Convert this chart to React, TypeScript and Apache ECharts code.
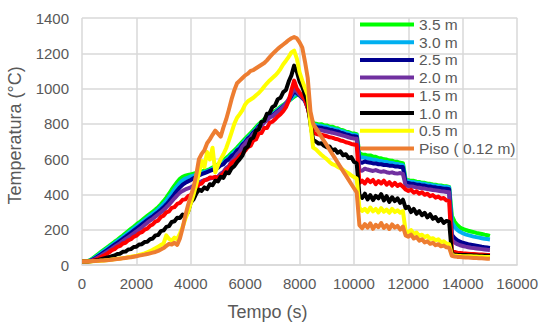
import { useEffect, useRef } from "react";
import * as echarts from "echarts";

// Sampling times (s), one reading every 100 s from 0 to 15000 s
const tiempo: number[] = Array.from({ length: 151 }, (_, i) => i * 100);

const nombres = ["3.5 m", "3.0 m", "2.5 m", "2.0 m", "1.5 m", "1.0 m", "0.5 m", "Piso ( 0.12 m)"];
const colores = ["#00FF00", "#00B0F0", "#000090", "#7030A0", "#FF0000", "#000000", "#FFFF00", "#ED7D31"];

// Temperatures (°C), rows of ten readings = 1000 s each
const h35 = [
  20, 20, 22, 28, 38, 50, 62, 74, 86, 97,
  108, 120, 132, 143, 155, 167, 180, 192, 205, 217,
  230, 241, 253, 266, 278, 290, 302, 314, 328, 344,
  362, 382, 404, 428, 450, 470, 488, 500, 506, 510,
  514, 518, 522, 526, 530, 534, 538, 544, 552, 560,
  570, 580, 592, 606, 620, 635, 650, 665, 682, 699,
  716, 732, 748, 764, 781, 798, 812, 826, 840, 850,
  860, 872, 884, 896, 908, 918, 930, 942, 954, 963,
  965, 958, 940, 900, 840, 803, 801, 797, 798, 792,
  791, 785, 784, 777, 775, 767, 764, 756, 754, 746,
  745, 742, 632, 627, 625, 620, 621, 614, 613, 606,
  605, 599, 598, 592, 591, 585, 585, 579, 577, 484,
  481, 477, 477, 472, 471, 466, 466, 461, 460, 456,
  455, 451, 451, 447, 446, 443, 278, 246, 226, 213,
  204, 199, 194, 190, 186, 182, 179, 176, 172, 169,
  165,
];

const h30 = [
  20, 20, 21, 26, 34, 45, 56, 68, 79, 90,
  101, 112, 124, 135, 146, 158, 170, 182, 194, 206,
  218, 230, 242, 254, 266, 278, 290, 302, 315, 330,
  346, 364, 384, 406, 428, 448, 466, 480, 490, 496,
  502, 507, 512, 517, 522, 527, 532, 538, 545, 552,
  560, 570, 582, 595, 609, 624, 640, 655, 671, 688,
  706, 722, 738, 755, 772, 790, 805, 819, 833, 844,
  854, 866, 879, 891, 903, 916, 930, 945, 962, 972,
  962, 950, 935, 895, 836, 795, 794, 789, 789, 784,
  783, 777, 775, 769, 767, 760, 757, 750, 747, 740,
  738, 735, 614, 609, 608, 603, 602, 597, 596, 591,
  590, 585, 584, 579, 578, 574, 573, 568, 566, 477,
  475, 470, 470, 465, 465, 460, 460, 455, 455, 450,
  450, 446, 446, 442, 442, 439, 242, 216, 199, 188,
  180, 174, 169, 165, 161, 158, 155, 152, 149, 147,
  145,
];

const h25 = [
  20, 20, 20, 24, 31, 40, 50, 60, 71, 82,
  93, 104, 115, 126, 137, 148, 159, 171, 183, 195,
  206, 218, 230, 242, 254, 265, 276, 288, 300, 313,
  327, 343, 361, 381, 402, 422, 440, 455, 466, 474,
  482, 492, 500, 508, 515, 521, 527, 533, 539, 545,
  552, 565, 572, 590, 599, 618, 628, 649, 660, 683,
  696, 717, 729, 751, 763, 786, 796, 815, 824, 841,
  848, 860, 873, 886, 899, 914, 932, 958, 982, 975,
  960, 946, 930, 890, 830, 785, 783, 779, 778, 773,
  772, 767, 765, 759, 757, 750, 747, 740, 737, 731,
  730, 727, 582, 579, 587, 582, 580, 576, 576, 571,
  571, 567, 567, 563, 563, 559, 559, 555, 555, 467,
  465, 461, 460, 455, 455, 450, 450, 445, 445, 440,
  440, 436, 436, 432, 432, 429, 172, 152, 140, 132,
  126, 122, 118, 115, 112, 109, 106, 103, 101, 99,
  97,
];

const h20 = [
  20, 20, 20, 22, 28, 35, 44, 53, 63, 73,
  83, 93, 104, 114, 124, 135, 146, 157, 168, 179,
  190, 202, 214, 227, 240, 251, 262, 274, 286, 298,
  311, 326, 342, 360, 378, 395, 410, 420, 428, 434,
  440, 450, 460, 468, 475, 481, 486, 490, 494, 497,
  500, 518, 528, 550, 561, 588, 603, 627, 643, 671,
  688, 708, 720, 743, 756, 778, 788, 808, 818, 836,
  842, 855, 868, 882, 897, 916, 940, 968, 998, 985,
  965, 950, 932, 892, 825, 772, 770, 767, 764, 760,
  757, 753, 750, 746, 742, 738, 733, 729, 724, 720,
  717, 715, 537, 534, 546, 541, 537, 533, 538, 532,
  528, 531, 526, 522, 525, 520, 518, 521, 516, 450,
  447, 445, 443, 440, 438, 435, 433, 430, 428, 425,
  423, 421, 418, 416, 414, 412, 142, 127, 118, 112,
  108, 104, 101, 98, 96, 94, 92, 90, 88, 86,
  85,
];

const h15 = [
  20, 20, 20, 21, 25, 30, 37, 45, 53, 62,
  72, 84, 90, 103, 108, 122, 126, 140, 146, 160,
  166, 180, 186, 200, 206, 222, 230, 246, 252, 272,
  280, 298, 304, 324, 328, 346, 352, 370, 372, 390,
  396, 420, 432, 458, 462, 480, 484, 496, 494, 500,
  492, 505, 518, 540, 552, 578, 590, 600, 620, 632,
  648, 668, 676, 706, 712, 746, 748, 776, 776, 806,
  812, 826, 842, 855, 872, 895, 930, 990, 1045, 1000,
  978, 958, 936, 890, 820, 750, 744, 740, 738, 734,
  730, 724, 722, 716, 713, 706, 703, 696, 692, 686,
  683, 680, 465, 478, 462, 485, 470, 482, 458, 476,
  462, 478, 455, 470, 450, 466, 448, 458, 444, 428,
  420, 426, 410, 418, 404, 412, 398, 404, 390, 396,
  382, 388, 376, 380, 366, 362, 82, 74, 70, 68,
  66, 65, 64, 63, 62, 61, 60, 59, 58, 57,
  56,
];

const h10 = [
  20, 20, 20, 21, 23, 26, 29, 33, 37, 41,
  45, 50, 54, 62, 64, 75, 76, 88, 90, 102,
  104, 116, 118, 130, 132, 146, 150, 168, 170, 192,
  196, 216, 220, 244, 248, 268, 266, 286, 280, 300,
  355, 372, 405, 428, 420, 440, 430, 458, 452, 478,
  474, 500, 494, 525, 520, 548, 560, 582, 600, 620,
  660, 672, 712, 722, 762, 768, 812, 818, 858, 862,
  895, 905, 940, 948, 980, 992, 1040, 1075, 1130, 1095,
  1040, 1010, 965, 920, 800, 708, 700, 688, 690, 676,
  668, 672, 650, 656, 636, 644, 622, 628, 606, 612,
  585, 576, 398, 380, 404, 372, 396, 368, 392, 378,
  402, 366, 390, 358, 384, 362, 378, 352, 370, 322,
  330, 300, 318, 290, 306, 282, 296, 270, 288, 262,
  272, 248, 262, 238, 250, 244, 64, 60, 58, 57,
  56, 56, 55, 55, 54, 54, 53, 53, 52, 52,
  51,
];

const h05 = [
  20, 20, 20, 20, 21, 22, 23, 24, 25, 27,
  29, 31, 33, 35, 37, 39, 41, 44, 47, 50,
  53, 57, 61, 66, 72, 78, 86, 95, 104, 113,
  122, 168, 148, 138, 155, 146, 178, 215, 262, 300,
  350, 398, 455, 520, 590, 555, 640, 598, 665, 525,
  565, 600, 628, 662, 705, 752, 800, 835, 855, 878,
  910, 928, 938, 948, 962, 975, 992, 1012, 1030, 1046,
  1060, 1074, 1090, 1112, 1138, 1158, 1180, 1205, 1215, 1170,
  1092, 1045, 1002, 962, 800, 665, 655, 640, 625, 612,
  600, 584, 572, 566, 556, 548, 540, 528, 520, 508,
  498, 490, 324, 306, 318, 300, 326, 304, 318, 298,
  322, 302, 314, 296, 318, 300, 310, 296, 306, 192,
  186, 198, 176, 184, 165, 172, 158, 166, 148, 152,
  140, 146, 130, 134, 122, 118, 58, 54, 52, 51,
  50, 50, 49, 49, 48, 48, 47, 47, 46, 46,
  45,
];

const piso = [
  20, 20, 20, 21, 22, 23, 24, 25, 26, 27,
  28, 30, 32, 34, 36, 38, 40, 42, 44, 47,
  50, 53, 56, 59, 62, 66, 70, 74, 80, 88,
  96, 108, 120, 116, 126, 114, 150, 210, 280, 340,
  390, 440, 510, 600, 630, 650, 690, 712, 738, 762,
  745, 728, 780, 825, 880, 940, 990, 1030, 1045, 1060,
  1075, 1085, 1100, 1105, 1115, 1125, 1135, 1145, 1160, 1178,
  1195, 1210, 1225, 1238, 1250, 1262, 1275, 1285, 1292, 1285,
  1262, 1232, 1152, 1060, 870, 800, 776, 752, 727, 703,
  679, 654, 630, 606, 581, 557, 532, 508, 484, 459,
  435, 412, 226, 208, 232, 212, 236, 205, 228, 214,
  238, 210, 226, 204, 230, 212, 222, 200, 218, 168,
  160, 172, 150, 158, 138, 146, 128, 134, 120, 126,
  112, 118, 106, 110, 100, 98, 52, 48, 46, 45,
  44, 43, 42, 41, 40, 39, 38, 38, 37, 36,
  35,
];

const valores = [h35, h30, h25, h20, h15, h10, h05, piso];

const FONT = "'Liberation Sans', Arial, sans-serif";
const GRIS = "#595959";
const REJILLA = "#d9d9d9";

export default function App() {
  const ref = useRef<HTMLDivElement>(null);

  useEffect(() => {
    if (!ref.current) return;
    const chart = echarts.init(ref.current, null, { renderer: "svg" });

    const series = nombres.map((nombre, k) => ({
      name: nombre,
      type: "line",
      data: tiempo.map((t, i) => [t, valores[k][i]]),
      showSymbol: false,
      symbol: "none",
      color: colores[k],
      lineStyle: { color: colores[k], width: 4, join: "round" },
      z: 2 + k,
      emphasis: { disabled: true },
    }));

    chart.setOption({
      animation: false,
      backgroundColor: "#ffffff",
      grid: { left: 82, right: 23, top: 18, bottom: 58, containLabel: false },
      xAxis: {
        type: "value",
        min: 0,
        max: 16000,
        interval: 2000,
        axisLine: { show: true, lineStyle: { color: REJILLA, width: 1.5 } },
        axisTick: { show: false },
        axisLabel: {
          color: GRIS,
          fontSize: 15,
          fontFamily: FONT,
          margin: 11,
          formatter: (v: number) => String(v),
        },
        splitLine: { show: true, lineStyle: { color: REJILLA, width: 1.5 } },
      },
      yAxis: {
        type: "value",
        min: 0,
        max: 1400,
        interval: 200,
        axisLine: { show: false },
        axisTick: { show: false },
        axisLabel: {
          color: GRIS,
          fontSize: 15,
          fontFamily: FONT,
          margin: 13,
          formatter: (v: number) => String(v),
        },
        splitLine: { show: true, lineStyle: { color: REJILLA, width: 1.5 } },
      },
      legend: {
        data: nombres,
        orient: "vertical",
        left: 360,
        top: 16.5,
        itemWidth: 54,
        itemHeight: 4,
        itemGap: 1.7,
        icon: "rect",
        selectedMode: false,
        padding: 0,
        textStyle: { color: GRIS, fontSize: 15.5, lineHeight: 15, fontFamily: FONT },
      },
      graphic: [
        {
          type: "text",
          x: 15,
          y: 135.5,
          rotation: Math.PI / 2,
          style: {
            text: "Temperatura (°C)",
            font: `18px ${FONT}`,
            fill: GRIS,
            textAlign: "center",
            textVerticalAlign: "middle",
          },
        },
        {
          type: "text",
          x: 267.5,
          y: 311.5,
          style: {
            text: "Tempo (s)",
            font: `18px ${FONT}`,
            fill: GRIS,
            textAlign: "center",
            textVerticalAlign: "middle",
          },
        },
      ],
      series,
    });

    return () => chart.dispose();
  }, []);

  return (
    <div
      ref={ref}
      style={{ position: "fixed", left: 0, top: 0, width: 541, height: 323, background: "#fff" }}
    />
  );
}
